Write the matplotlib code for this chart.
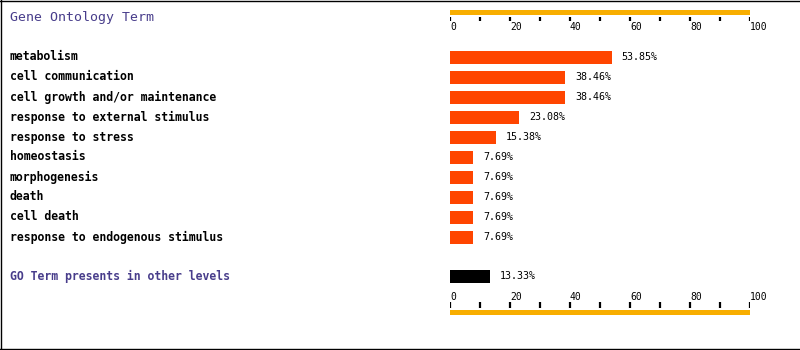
import matplotlib
matplotlib.use("Agg")
import matplotlib.pyplot as plt
from matplotlib.lines import Line2D

terms = ["metabolism", "cell communication", "cell growth and/or maintenance",
         "response to external stimulus", "response to stress", "homeostasis",
         "morphogenesis", "death", "cell death", "response to endogenous stimulus"]
percents = [53.85, 38.46, 38.46, 23.08, 15.38, 7.69, 7.69, 7.69, 7.69, 7.69]
other_label = "GO Term presents in other levels"
other_percent = 13.33
scale_ticks = [0, 20, 40, 60, 80, 100]

W, H = 800, 350
fig = plt.figure(figsize=(W / 100, H / 100), dpi=100)
fig.patch.set_facecolor("white")

# bar axes: x from pixel 450 to 750, y in pixel rows
ax = fig.add_axes([450 / W, 0, 300 / W, 1])
ax.set_xlim(0, 100)
ax.set_ylim(H, 0)
ax.axis("off")

mono = "DejaVu Sans Mono"
px = 100 / 300  # one pixel in data units
lab_x = -440 * px
title_col = "#483D8B"

ax.text(lab_x, 18, "Gene Ontology Term", family=mono, fontsize=9.5,
        color=title_col, va="center", ha="left", clip_on=False)

for i, (t, p) in enumerate(zip(terms, percents)):
    y = 57 + 20 * i
    ax.barh(y, p, height=13, left=0, color="#FF4500")
    ax.text(lab_x, y, t, family=mono, fontsize=8.3, fontweight="bold",
            va="center", ha="left", clip_on=False)
    ax.text(p + 3.3, y, "%.2f%%" % p, family=mono, fontsize=7.2,
            va="center", ha="left")

ax.barh(276, other_percent, height=13, color="black")
ax.text(lab_x, 276, other_label, family=mono, fontsize=8.3, fontweight="bold",
        color=title_col, va="center", ha="left", clip_on=False)
ax.text(other_percent + 3.3, 276, "%.2f%%" % other_percent, family=mono,
        fontsize=7.2, va="center", ha="left")

# scales top and bottom
orange = "#F8AE00"
for bar_y, tick_y0, tick_y1, lab_y in [(12.5, 16.5, 21, 27), (312.5, 302, 307.5, 297)]:
    ax.barh(bar_y, 100, height=5, color=orange)
    for v in range(0, 101, 10):
        ax.plot([v, v], [tick_y0, tick_y1], color="black", lw=1.6,
                solid_capstyle="butt")
    for v in scale_ticks:
        ax.text(v, lab_y, str(v), family=mono, fontsize=7,
                va="center", ha="left", clip_on=False)

# frame (top, left, bottom)
lw = 1.0
fig.add_artist(Line2D([0, 1], [1 - 0.6 / H, 1 - 0.6 / H], color="black", lw=lw))
fig.add_artist(Line2D([0, 1], [1.2 / H, 1.2 / H], color="black", lw=lw))
fig.add_artist(Line2D([1.2 / W, 1.2 / W], [0, 1], color="black", lw=lw))

fig.savefig("out.png", dpi=100, facecolor="white")
